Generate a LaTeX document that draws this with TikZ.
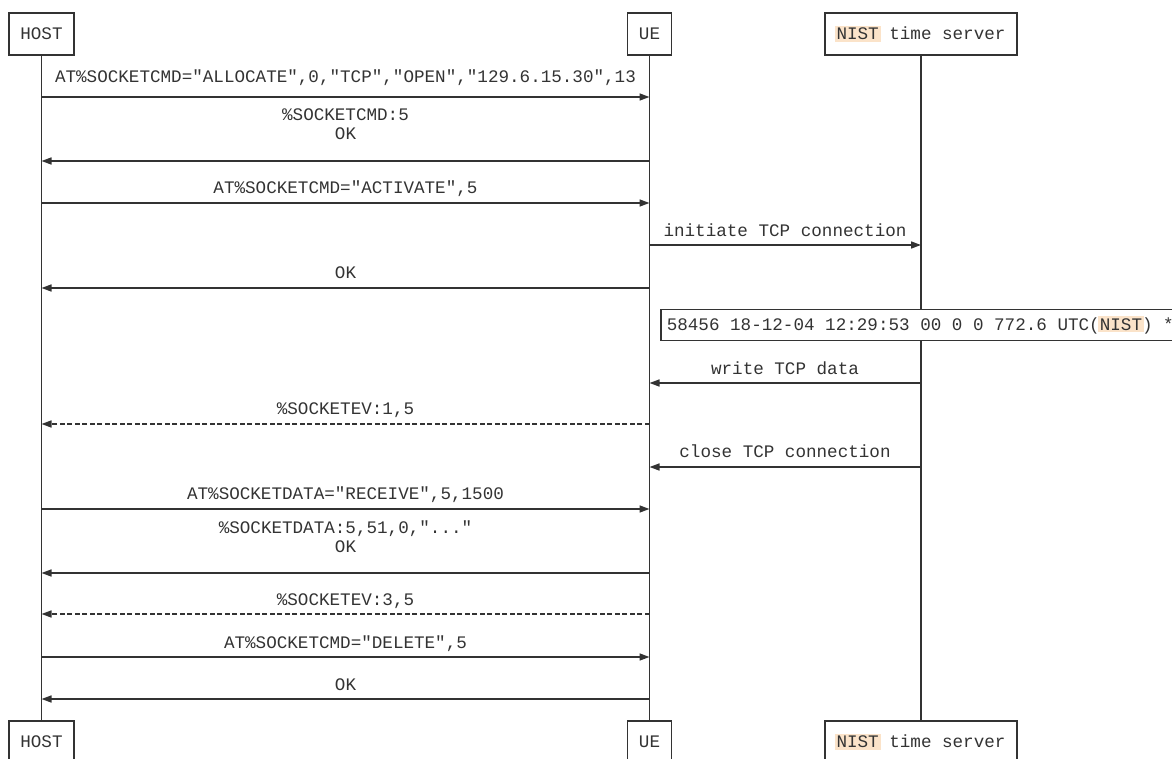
\documentclass[tikz,border=0pt]{standalone}
\usepackage{fontspec}
\setmonofont{Liberation Mono}
\usetikzlibrary{arrows.meta}
\definecolor{ink}{HTML}{333333}
\definecolor{nistbg}{HTML}{FBE3C9}
\newcommand{\nist}{{\setlength{\fboxsep}{2pt}\hspace{-2pt}\colorbox{nistbg}{NIST}\hspace{-2pt}}}
\tikzset{
  every node/.style={font=\ttfamily\fontsize{17.6}{18.5}\selectfont, text=ink},
  actor/.style={draw=ink, line width=1.6pt, minimum height=42pt, inner xsep=11.5pt},
  life/.style={draw=ink, line width=1.6pt},
  msg/.style={draw=ink, line width=1.6pt, -{Triangle[length=10pt,width=7pt]}},
  reply/.style={msg, dash pattern=on 5pt off 2.5pt},
  lbl/.style={anchor=base, inner sep=0pt},
  note/.style={draw=ink, line width=1.6pt, fill=white, anchor=west, minimum height=31pt, inner xsep=6pt}
}
\begin{document}
\begin{tikzpicture}[x=1pt,y=-1pt]
\useasboundingbox (0,0) rectangle (1172,759);
\node[actor] (hosttop) at (41.5,34) {HOST};
\node[actor] (uetop) at (649.5,34) {UE};
\node[actor] (nisttop) at (921,34) {\nist{} time server};
\node[actor] (hostbot) at (41.5,742) {HOST};
\node[actor] (uebot) at (649.5,742) {UE};
\node[actor] (nistbot) at (921,742) {\nist{} time server};
\draw[life] (hosttop) -- (hostbot);
\draw[life] (uetop) -- (uebot);
\draw[life] (nisttop) -- (nistbot);
\foreach \m/\y in {a/97,b/161,c/203,d/245,e/288,f/383,g/424,h/467,i/509,j/573,k/614,l/657,m/699}{
  \coordinate (h\m) at (41.5,\y);
  \coordinate (u\m) at (649.5,\y);
  \coordinate (n\m) at (921,\y);
}
\node[note] (ntp) at (660,325) {58456 18-12-04 12:29:53 00 0 0 772.6 UTC(\nist) *};
\draw[msg] (ha) -- (ua);
\node[lbl] at (345.5,83) {AT\%SOCKETCMD="ALLOCATE",0,"TCP","OPEN","129.6.15.30",13};
\draw[msg] (ub) -- (hb);
\node[lbl] at (345.5,121) {\%SOCKETCMD:5};
\node[lbl] at (345.5,140) {OK};
\draw[msg] (hc) -- (uc);
\node[lbl] at (345.5,194) {AT\%SOCKETCMD="ACTIVATE",5};
\draw[msg] (ud) -- (nd);
\node[lbl] at (785,237) {initiate TCP connection};
\draw[msg] (ue) -- (he);
\node[lbl] at (345.5,279) {OK};
\draw[msg] (nf) -- (uf);
\node[lbl] at (785,374) {write TCP data};
\draw[reply] (ug) -- (hg);
\node[lbl] at (345.5,414) {\%SOCKETEV:1,5};
\draw[msg] (nh) -- (uh);
\node[lbl] at (785,457) {close TCP connection};
\draw[msg] (hi) -- (ui);
\node[lbl] at (345.5,499) {AT\%SOCKETDATA="RECEIVE",5,1500};
\draw[msg] (uj) -- (hj);
\node[lbl] at (345.5,533) {\%SOCKETDATA:5,51,0,"..."};
\node[lbl] at (345.5,552) {OK};
\draw[reply] (uk) -- (hk);
\node[lbl] at (345.5,605) {\%SOCKETEV:3,5};
\draw[msg] (hl) -- (ul);
\node[lbl] at (345.5,648) {AT\%SOCKETCMD="DELETE",5};
\draw[msg] (um) -- (hm);
\node[lbl] at (345.5,690) {OK};
\end{tikzpicture}
\end{document}
